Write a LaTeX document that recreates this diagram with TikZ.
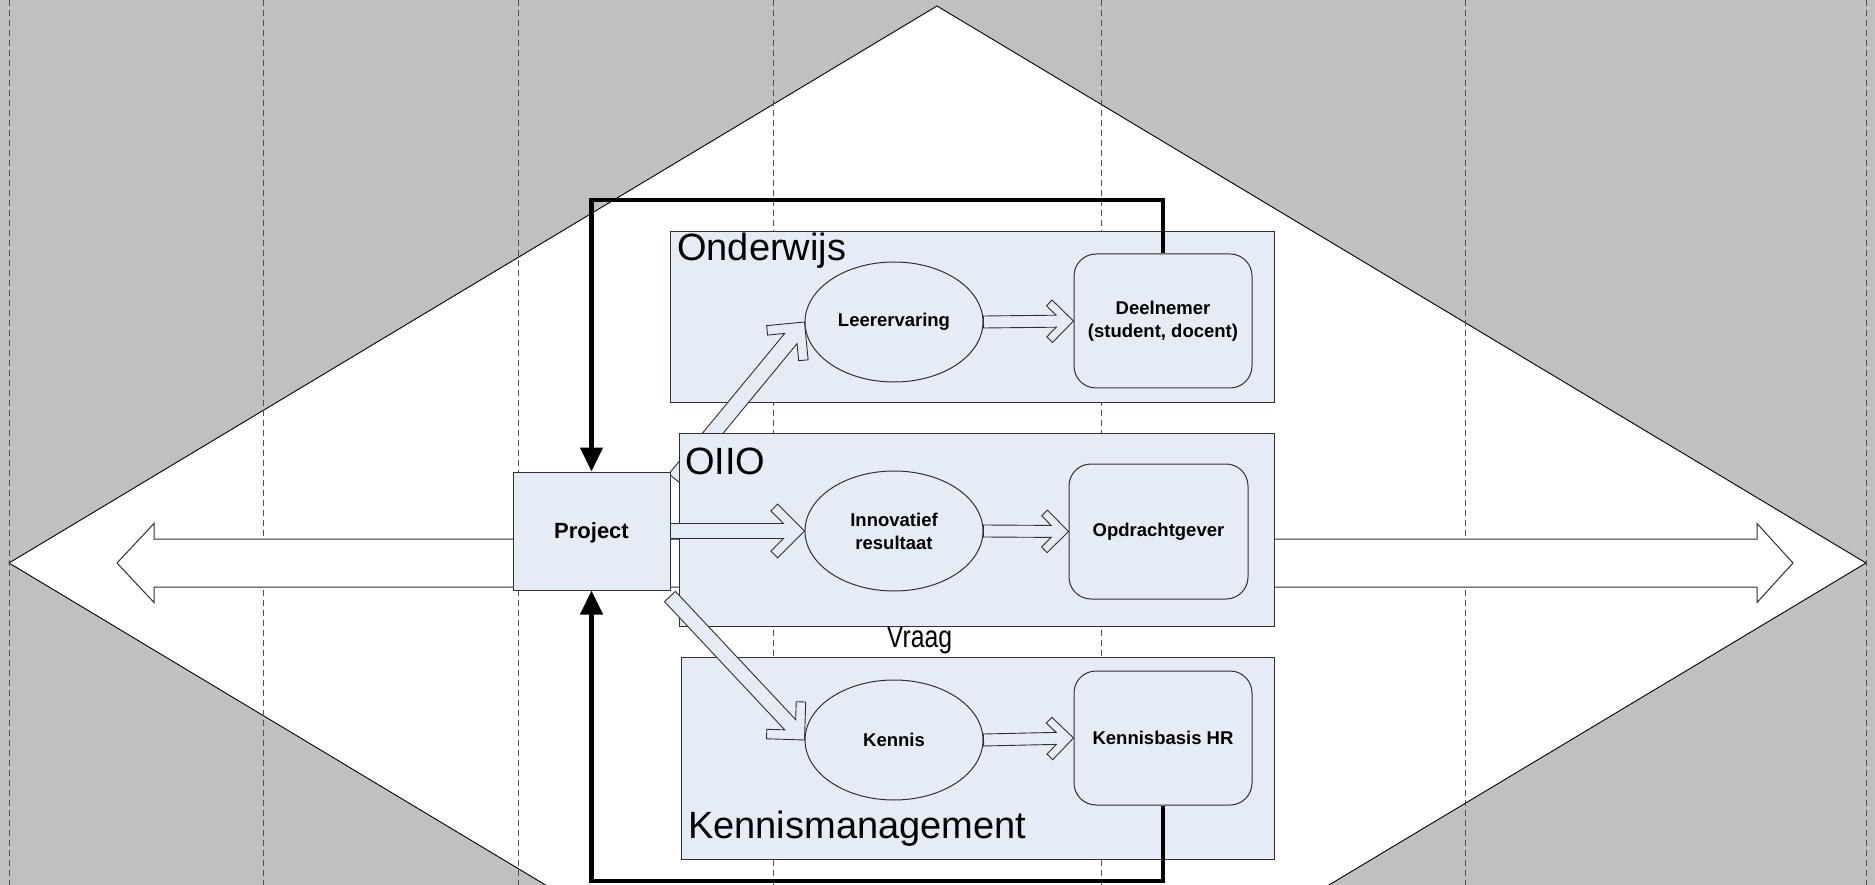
\documentclass[tikz,border=0pt]{standalone}
\usepackage{fontspec}
\setmainfont{Liberation Sans}
\usetikzlibrary{arrows.meta,calc,shapes.geometric}
\definecolor{bg}{HTML}{C0C0C0}
\definecolor{boxfill}{HTML}{E6ECF6}
\definecolor{edge}{HTML}{303030}
\definecolor{guidecol}{HTML}{505050}

\tikzset{
  area/.style={draw=edge, line width=1pt, fill=boxfill, inner sep=0pt},
  blob/.style={ellipse, draw=edge, line width=1pt, fill=boxfill, minimum width=178pt, minimum height=120pt, inner sep=0pt, align=center, font=\bfseries\fontsize{18.5}{23}\selectfont},
  rbox/.style={rectangle, rounded corners=22pt, draw=edge, line width=1pt, fill=boxfill, minimum width=178pt, minimum height=134pt, inner sep=0pt, align=center, font=\bfseries\fontsize{18.5}{23}\selectfont},
  areatitle/.style={anchor=base west, inner sep=0pt, font=\fontsize{38}{42}\selectfont},
  harrow/.style={draw=edge, line width=0.9pt, fill=boxfill, line join=miter},
  guide/.style={draw=guidecol, dash pattern=on 6pt off 4pt, line width=0.8pt},
  feedback/.style={draw=black, line width=4.5pt, line join=miter, -{Triangle[length=24pt,width=22pt]}},
  bigarrow/.style={draw=edge, line width=1pt, fill=white, line join=miter},
}

% hollow block arrow: #1 tail, #2 tip, #3 barb length, #4 barb thickness, #5 half shaft width
\newcommand{\hollowarrow}[5]{%
  \path (#1); \pgfgetlastxy{\hax}{\hay}%
  \path (#2); \pgfgetlastxy{\hbx}{\hby}%
  \pgfmathsetmacro{\hang}{atan2((\hby)-(\hay),(\hbx)-(\hax))}%
  \pgfmathsetmacro{\hlen}{veclen((\hbx)-(\hax),(\hby)-(\hay))}%
  \begin{scope}[shift={(#2)}, rotate=\hang, x=1pt, y=1pt]
    \draw[harrow] (-\hlen,#5) -- ({-1.4142*#4-#5},#5)
      -- ({-(#3+#4)*0.7071},{(#3-#4)*0.7071}) -- ({-#3*0.7071},{#3*0.7071})
      -- (0,0)
      -- ({-#3*0.7071},{-#3*0.7071}) -- ({-(#3+#4)*0.7071},{-(#3-#4)*0.7071})
      -- ({-1.4142*#4-#5},-#5) -- (-\hlen,-#5) -- cycle;
  \end{scope}
}

\begin{document}
\begin{tikzpicture}[x=1pt, y=-1pt]
\useasboundingbox (0,0) rectangle (1875,885);
\clip (0,0) rectangle (1875,885);

% background
\fill[bg] (0,0) rectangle (1875,885);
\draw[fill=white, draw=black, line width=0.9pt] (937,6) -- (1866,563) -- (937,1120) -- (9,563) -- cycle;

% guide lines
\foreach \gx in {9,263,518,773,1101,1465,1866}
  \draw[guide] (\gx,0) -- (\gx,885);

% big double arrow
\draw[bigarrow] (117,563) -- (154,523.5) -- (154,539) -- (1757,539) -- (1757,523.5)
  -- (1793,563) -- (1757,602.5) -- (1757,587) -- (154,587) -- (154,602.5) -- cycle;

% text below OIIO (partly hidden by the box)
\node[anchor=base, inner sep=0pt, font=\fontsize{31}{34}\selectfont, xscale=0.8, transform shape] (vraag) at (919.5,647) {Vraag};

% Onderwijs area
\node[area, minimum width=604pt, minimum height=170pt] (ond) at (972,317) {};
\node[areatitle] (tond) at (677,261) {Onderwijs};

% leerervaring and the arrow to it (behind OIIO)
\coordinate (t1) at (675,479);
\node[blob] (leer) at (894,322) {Leerervaring};
\hollowarrow{t1}{leer.west}{38}{9.5}{8}

% OIIO area
\node[area, minimum width=595pt, minimum height=193pt] (oiio) at (976.5,529.5) {};
\node[areatitle] (toiio) at (685,474) {OIIO};

% Kennismanagement area
\node[area, minimum width=593pt, minimum height=202pt] (km) at (977.5,758) {};
\node[areatitle] (tkm) at (688,838) {Kennismanagement};

% project
\node[area, minimum width=157pt, minimum height=118pt, text depth=0pt, font=\bfseries\fontsize{22}{26}\selectfont] (proj) at (591.5,531) {Project};

% ellipses and boxes
\node[blob] (inno) at (894,531) {Innovatief\\resultaat};
\node[blob] (kenn) at (894,740) {Kennis};
\node[rbox] (deel) at (1163,321) {Deelnemer\\(student, docent)};
\node[rbox, minimum width=179pt, minimum height=135pt] (opd) at (1158.5,531.5) {Opdrachtgever};
\node[rbox] (kb) at (1163,738) {Kennisbasis HR};

% hollow arrows
\coordinate (t3) at (670,596.5);
\hollowarrow{proj.east}{inno.west}{38}{9.5}{7.5}
\hollowarrow{t3}{kenn.west}{38}{9.5}{7.5}
\hollowarrow{leer.east}{deel.west}{30}{8}{6}
\hollowarrow{inno.east}{opd.west}{30}{8}{6}
\hollowarrow{kenn.east}{kb.west}{30}{8}{6}

% feedback lines
\coordinate (ctop) at (591.5,200);
\coordinate (cbot) at (591.5,881);
\draw[feedback] (deel.north) |- (ctop) -- (proj.north);
\draw[feedback] (kb.south) |- (cbot) -- (proj.south);
\end{tikzpicture}
\end{document}
